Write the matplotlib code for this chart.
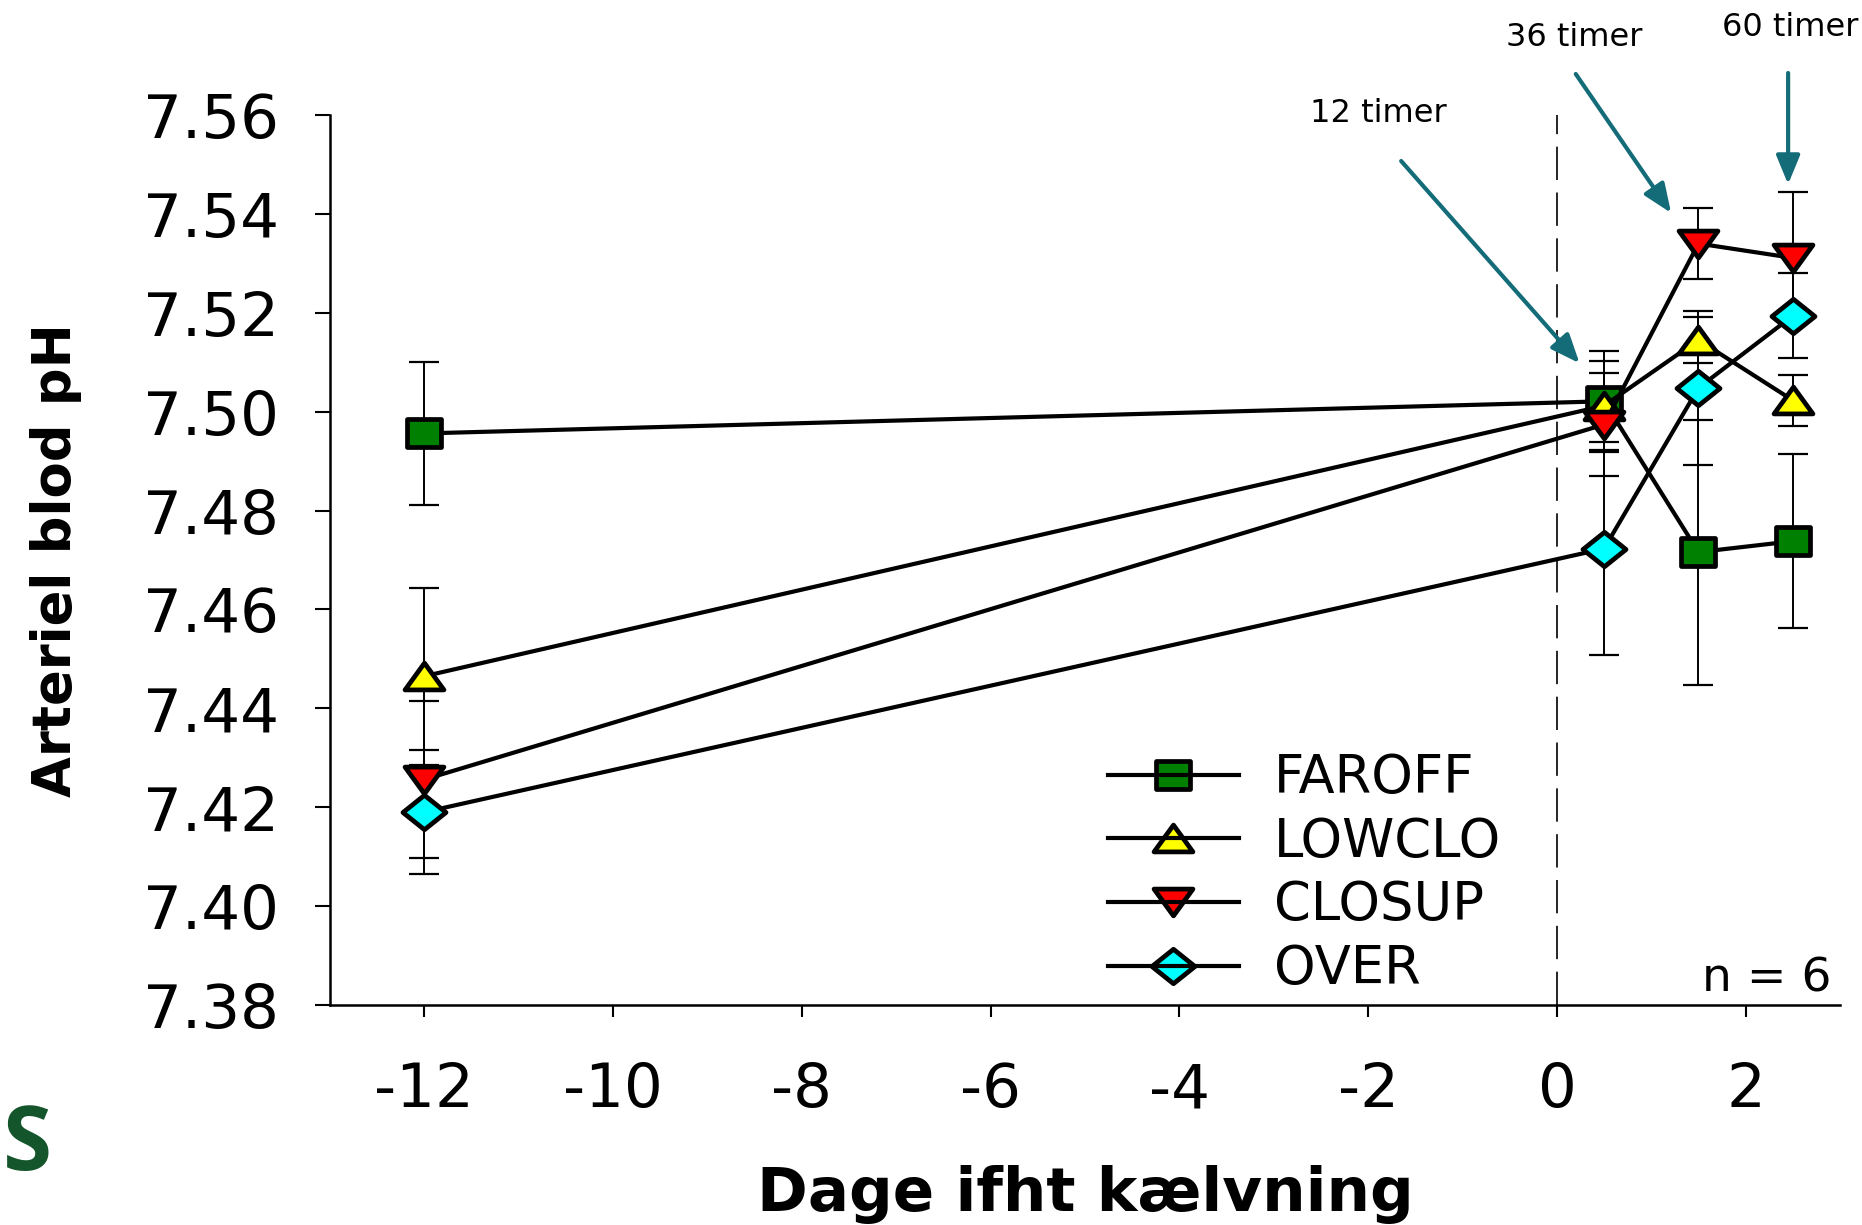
import matplotlib
matplotlib.use("Agg")
import matplotlib.pyplot as plt
from matplotlib.legend_handler import HandlerTuple
from matplotlib.lines import Line2D
from matplotlib.path import Path
from matplotlib.ticker import FormatStrFormatter

plt.rcParams['font.family'] = ['DejaVu Sans']
plt.rcParams['axes.unicode_minus'] = False

# Days relative to calving
days = [-12, 0.5, 1.5, 2.5]

# Arterial blood pH, mean and SEM per group (n = 6)
faroff_ph = [7.4956, 7.5021, 7.4716, 7.4738]
faroff_sem = [0.0144, 0.0102, 0.0268, 0.0176]
lowclo_ph = [7.4465, 7.5012, 7.5145, 7.5023]
lowclo_sem = [0.0179, 0.0090, 0.0046, 0.0052]
closup_ph = [7.4256, 7.4974, 7.5340, 7.5311]
closup_sem = [0.0158, 0.0105, 0.0072, 0.0133]
over_ph = [7.4190, 7.4723, 7.5048, 7.5194]
over_sem = [0.0125, 0.0216, 0.0155, 0.0086]

groups = ["FAROFF", "LOWCLO", "CLOSUP", "OVER"]

x_ticks = [-12, -10, -8, -6, -4, -2, 0, 2]
y_ticks = [7.38, 7.40, 7.42, 7.44, 7.46, 7.48, 7.50, 7.52, 7.54, 7.56]

# sampling times after calving that get an arrow + label
time_labels = ["12 timer", "36 timer", "60 timer"]


def closed_marker(pts):
    # slightly wide polygon markers
    return Path(pts + [pts[0]], closed=True)


SQUARE = closed_marker([(-1.2, -1), (1.2, -1), (1.2, 1), (-1.2, 1)])
TRI_UP = closed_marker([(0, 1), (-1.45, -1), (1.45, -1)])
TRI_DOWN = closed_marker([(0, -1), (1.45, 1), (-1.45, 1)])
DIAMOND = closed_marker([(0, 1), (1.25, 0), (0, -1), (-1.25, 0)])

styles = [
    (faroff_ph, faroff_sem, SQUARE, 24, '#008000'),
    (lowclo_ph, lowclo_sem, TRI_UP, 28, '#ffff00'),
    (closup_ph, closup_sem, TRI_DOWN, 28, '#ff0000'),
    (over_ph, over_sem, DIAMOND, 31, '#00ffff'),
]

fig = plt.figure(figsize=(18.62, 12.25), dpi=100)
ax = fig.add_axes([0.1772, 0.1796, 0.8110, 0.7265])

ax.axvline(0, color='black', lw=1.2, dashes=(20, 7.5), zorder=1)

handles = []
for i, (ph, sem, mk, ms, col) in enumerate(styles):
    ax.errorbar(days, ph, yerr=sem, fmt='none', ecolor='black',
                elinewidth=1.4, capsize=10.8, capthick=1.6, zorder=2 + i * 0.1)
    ax.plot(days, ph, color='black', lw=3.0, marker=mk, ms=ms,
            mfc=col, mec='black', mew=3.4, zorder=3 + i * 0.1)
    m = Line2D([], [], ls='none', marker=mk, ms=ms, mfc=col, mec='black', mew=3.4)
    ln = Line2D([], [], color='black', lw=3.0)
    handles.append((m, ln))

ax.set_xlim(-13, 3)
ax.set_ylim(7.38, 7.56)
ax.set_xticks(x_ticks)
ax.set_yticks(y_ticks)
ax.yaxis.set_major_formatter(FormatStrFormatter('%.2f'))

for side in ['top', 'right']:
    ax.spines[side].set_visible(False)
for side in ['left', 'bottom']:
    ax.spines[side].set_linewidth(1.8)

ax.tick_params(axis='y', direction='out', length=10.8, width=1.5, pad=26, labelsize=44)
ax.tick_params(axis='x', direction='out', length=8.6, width=1.5, pad=32, labelsize=44)

ax.set_xlabel('Dage ifht kælvning', fontsize=44, fontweight='bold')
ax.xaxis.set_label_coords(0.50, -0.18)
ax.set_ylabel('Arteriel blod pH', fontsize=38, fontweight='bold')
ax.yaxis.set_label_coords(-0.164, 0.5)

ax.legend(handles, groups, handler_map={tuple: HandlerTuple(ndivide=1, pad=0)},
          loc='upper left', bbox_to_anchor=(0.595, 0.386),
          bbox_transform=fig.transFigure, frameon=False, fontsize=38,
          handlelength=2.48, handletextpad=0.66, labelspacing=0.22,
          borderpad=0, borderaxespad=0, numpoints=1)

ax.text(1832 / 1862, 1 - 991 / 1225, 'n = 6', transform=fig.transFigure,
        fontsize=34, ha='right', va='baseline')

# arrows marking 12, 36 and 60 h after calving
teal = '#136c78'
arrows = [((-1.65, 7.5507), (0.24, 7.5098)),
          ((0.20, 7.5683), (1.21, 7.5402)),
          ((2.45, 7.5685), (2.45, 7.5460))]
label_pos = [(1378, 113, 'center'), (1574, 37, 'center'), (1859, 27, 'right')]
for lbl, (start, tip), (tx, ty, ha) in zip(time_labels, arrows, label_pos):
    ax.annotate('', xy=tip, xytext=start, annotation_clip=False,
                arrowprops=dict(arrowstyle='-|>,head_length=0.8,head_width=0.33',
                                color=teal, lw=3, shrinkA=0, shrinkB=0,
                                mutation_scale=22))
    fig.text(tx / 1862, 1 - ty / 1225, lbl, fontsize=23, ha=ha, va='center')

fig.text(0.0016, 0.0449, 'S', fontsize=64, fontweight='bold', color='#14552b',
         family='Open Sans', ha='left', va='baseline')

fig.savefig('out.png', dpi=100)
